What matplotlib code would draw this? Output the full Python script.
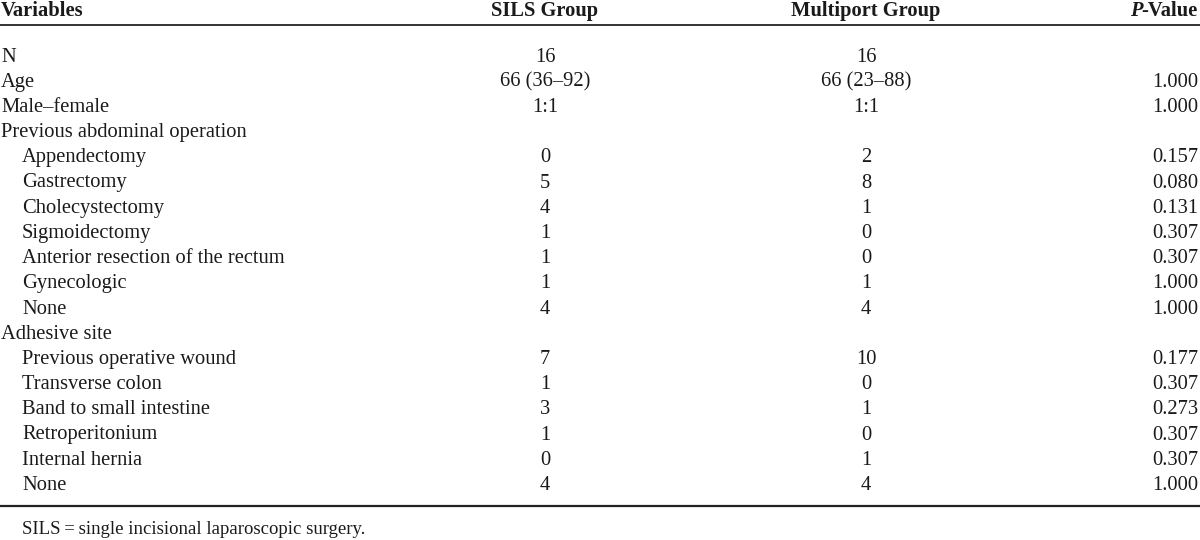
import matplotlib
matplotlib.use("Agg")
import matplotlib.pyplot as plt

# table content
headers = ["Variables", "SILS Group", "Multiport Group", "P-Value"]
variables = ["N", "Age", "Male\u2013female", "Previous abdominal operation",
             "Appendectomy", "Gastrectomy", "Cholecystectomy", "Sigmoidectomy",
             "Anterior resection of the rectum", "Gynecologic", "None",
             "Adhesive site",
             "Previous operative wound", "Transverse colon", "Band to small intestine",
             "Retroperitonium", "Internal hernia", "None"]
indented = [False, False, False, False,
            True, True, True, True, True, True, True,
            False,
            True, True, True, True, True, True]
sils = ["16", "66 (36\u201392)", "1:1", "",
        "0", "5", "4", "1", "1", "1", "4",
        "",
        "7", "1", "3", "1", "0", "4"]
multiport = ["16", "66 (23\u201388)", "1:1", "",
             "2", "8", "1", "0", "0", "1", "4",
             "",
             "10", "0", "1", "0", "1", "4"]
pvalues = ["", "1.000", "1.000", "",
           "0.157", "0.080", "0.131", "0.307", "0.307", "1.000", "1.000",
           "",
           "0.177", "0.307", "0.273", "0.307", "0.307", "1.000"]
footnote = "SILS\u2009=\u2009single incisional laparoscopic surgery."

plt.rcParams["font.family"] = ["Liberation Serif", "DejaVu Serif"]
FS = 14.8
INK = "#1a1a1a"

fig = plt.figure(figsize=(12, 5.4), dpi=100)
ax = fig.add_axes([0, 0, 1, 1])
ax.set_xlim(0, 1200)
ax.set_ylim(540, 0)
ax.axis("off")

x_var, x_ind, x_sils, x_multi, x_p = 1, 22, 545, 866, 1198
y_head, y_first, dy = 16, 61.5, 25.2   # text baselines

ax.text(x_var, y_head, headers[0], fontsize=FS, fontweight="bold", color=INK,
        ha="left", va="baseline")
ax.text(x_sils, y_head, headers[1], fontsize=FS, fontweight="bold", color=INK,
        ha="center", va="baseline")
ax.text(x_multi, y_head, headers[2], fontsize=FS, fontweight="bold", color=INK,
        ha="center", va="baseline")
# "P-Value": italic bold P followed by bold "-Value"
tv = ax.text(x_p, y_head, headers[3][1:], fontsize=FS, fontweight="bold", color=INK,
             ha="right", va="baseline")
r = fig.canvas.get_renderer()
left_px = tv.get_window_extent(r).x0
x_left = ax.transData.inverted().transform((left_px, 0))[0]
ax.text(x_left + 1, y_head, headers[3][0], fontsize=FS, fontweight="bold",
        fontstyle="italic", color=INK, ha="right", va="baseline")

ax.axhline(25, color="#333333", lw=1.4)

for i, name in enumerate(variables):
    y = y_first + i * dy
    ax.text(x_ind if indented[i] else x_var, y, name, fontsize=FS, color=INK,
            ha="left", va="baseline")
    ax.text(x_sils, y, sils[i], fontsize=FS, color=INK, ha="center", va="baseline")
    ax.text(x_multi, y, multiport[i], fontsize=FS, color=INK, ha="center", va="baseline")
    ax.text(x_p, y, pvalues[i], fontsize=FS, color=INK, ha="right", va="baseline")

ax.axhline(506, color="#222222", lw=1.6)
ax.text(x_ind, 534, footnote, fontsize=FS - 1.3, color=INK, ha="left", va="baseline")

fig.savefig("out.png", dpi=100, facecolor="white")
